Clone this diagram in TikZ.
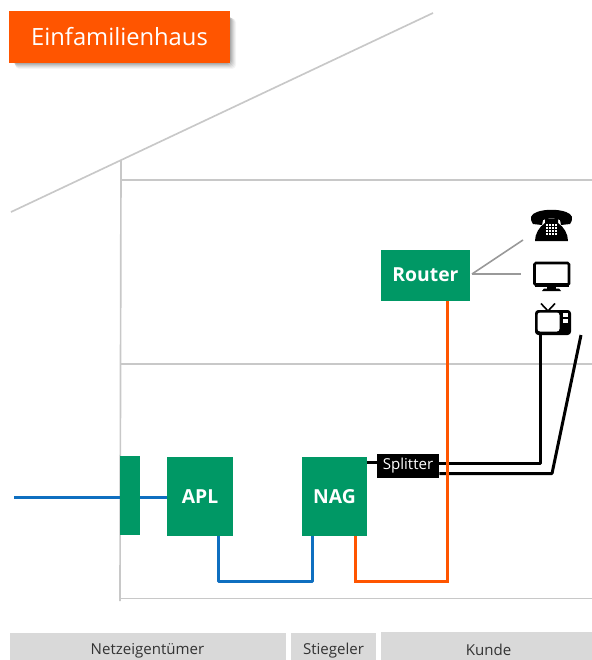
\documentclass[tikz,border=0pt]{standalone}
\usepackage{fontspec}
\setmainfont{Open Sans}
\definecolor{grn}{HTML}{009865}
\definecolor{org}{HTML}{FF5500}
\definecolor{blu}{HTML}{0F6FC0}
\definecolor{wallc}{HTML}{C8C8C8}
\definecolor{barc}{HTML}{D9D9D9}
\tikzset{
  wall/.style={draw=wallc,line width=1.25pt},
  greenbox/.style={fill=grn,draw=none,text=white,font=\bfseries\fontsize{14.5}{16}\selectfont,inner sep=0pt,minimum width=#1},
  bar/.style={draw=none,text=black!80,font=\fontsize{11.3}{13}\selectfont,inner sep=0pt},
  bluel/.style={draw=blu,line width=2.25pt,line join=round},
  orgl/.style={draw=org,line width=2.25pt},
  blkl/.style={draw=black,line width=2.25pt,line join=round},
  greyl/.style={draw=black!40,line width=1.2pt},
}
\begin{document}
\begin{tikzpicture}[x=0.75pt,y=-0.75pt]
\useasboundingbox (0,0) rectangle (592,660);
% house
\coordinate (roofL) at (11,212); \coordinate (roofR) at (433,13);
\coordinate (wallT) at (121,160); \coordinate (wallB) at (120,601);
\coordinate (floorL) at (120,598.5); \coordinate (floorR) at (592,598.5);
\coordinate (f1L) at (121,180); \coordinate (f1R) at (592,180);
\coordinate (f2L) at (121,364); \coordinate (f2R) at (592,364);
\draw[wall] (roofL) -- (roofR);
\draw[wall] (wallT) -- (wallB);
\draw[wall] (floorL) -- (floorR);
\draw[wall] (f1L) -- (f1R);
\draw[wall] (f2L) -- (f2R);
% title shadow
\foreach \d/\o in {0/.10,1/.09,2/.09,3/.08,4/.07,5/.06,6/.05,7/.04}
  \fill[black,opacity=\o,rounded corners=3pt] ({12+\d*0.5},{15+\d*0.5}) rectangle ({229+\d},{62+\d});
\node[fill=org,text=white,inner sep=0pt,minimum width=165.75pt,minimum height=39pt,font=\fontsize{17.8}{20}\selectfont] (title) at (119.5,37) {Einfamilienhaus};
% boxes
\node[fill=grn,inner sep=0pt,minimum width=15pt,minimum height=59.25pt] (wallbox) at (130,495.5) {};
\node[greenbox=49.5pt,minimum height=59.25pt] (apl) at (200,496.5) {APL};
\node[greenbox=48.75pt,minimum height=59.25pt] (nag) at (334.5,496.5) {NAG};
\node[greenbox=66.75pt,minimum height=38.25pt] (router) at (425.5,275.5) {\raisebox{1pt}{Router}};
\node[fill=black,text=white,inner sep=0pt,minimum width=46.5pt,minimum height=18pt,font=\fontsize{11.3}{13}\selectfont] (split) at (408,466) {Splitter};
% connector anchors
\coordinate (src) at (14,497.5);
\coordinate (phoneend) at (523,240);
\coordinate (monend) at (521,274);
\coordinate (tvend) at (540.5,332);
\coordinate (freeend) at (581,335);
\coordinate (rout) at (472,274);
% connectors
\draw[bluel] (src) -- (wallbox.west |- src);
\draw[bluel] (wallbox.east |- src) -- (apl.west |- src);
\draw[bluel] (218.5,536) -- (218.5,581.5) -- (312.5,581.5) -- (312.5,536);
\draw[blkl] (nag.east |- 0,462.5) -- (split.west |- 0,462.5);
\draw[blkl] (split.east |- 0,463.5) -- (540.5,463.5) -- (tvend);
\draw[blkl] (split.east |- 0,473.5) -- (552,473.5) -- (freeend);
\draw[orgl] (355.5,536) -- (355.5,581.5) -- (447.5,581.5) -- (router.south -| 447.5,0);
\draw[greyl] (rout) -- (phoneend);
\draw[greyl] (rout) -- (monend);
% phone icon
\fill[black] (533,224) .. controls (529,218) and (531,214) .. (537,212) .. controls (545,209) and (558,209) .. (566,212) .. controls (572,214) and (574,218) .. (570,224) -- (561,225) -- (560,220) .. controls (556,218) and (547,218) .. (543,220) -- (542,225) -- cycle;
\fill[black] (545,219) -- (558,219) -- (558,223) .. controls (564,227) and (568,234) .. (568,241) -- (535,241) .. controls (535,234) and (539,227) .. (545,223) -- cycle;
\foreach \i in {0,1,2,3} \foreach \j in {0,1,2,3}
  \fill[white] ({546+\i*3},{224+\j*3}) rectangle +(1.9,1.9);
% monitor icon
\draw[black,line width=1.9pt,rounded corners=1pt] (534.5,263) rectangle (569,285);
\fill[black] (534.5,283) rectangle (569,286.5);
\fill[black] (547,286) rectangle (556,289);
\fill[black] (544,288.5) -- (559,288.5) -- (561,291) -- (542,291) -- cycle;
% tv icon
\fill[black,rounded corners=2.5pt] (535,310) rectangle (571,335);
\fill[white,rounded corners=2pt] (537.5,312.5) rectangle (559.5,331.5);
\fill[white] (563,313) rectangle (568,317);
\fill[white] (563,319) rectangle (568,323);
\draw[black,line width=1.2pt] (548,311) -- (541,303.5);
\draw[black,line width=1.2pt] (555,303.5) -- (548,311);
% bottom bars
\fill[barc] (10,633) rectangle (286,660);
\fill[barc] (291,633) rectangle (376,660);
\fill[barc] (381,632) rectangle (592,660);
\node[bar] (b1) at (147.5,650.5) {Netzeigentümer};
\node[bar] (b2) at (333.5,650.5) {Stiegeler};
\node[bar] (b3) at (488.5,649.5) {Kunde};
\end{tikzpicture}
\end{document}
